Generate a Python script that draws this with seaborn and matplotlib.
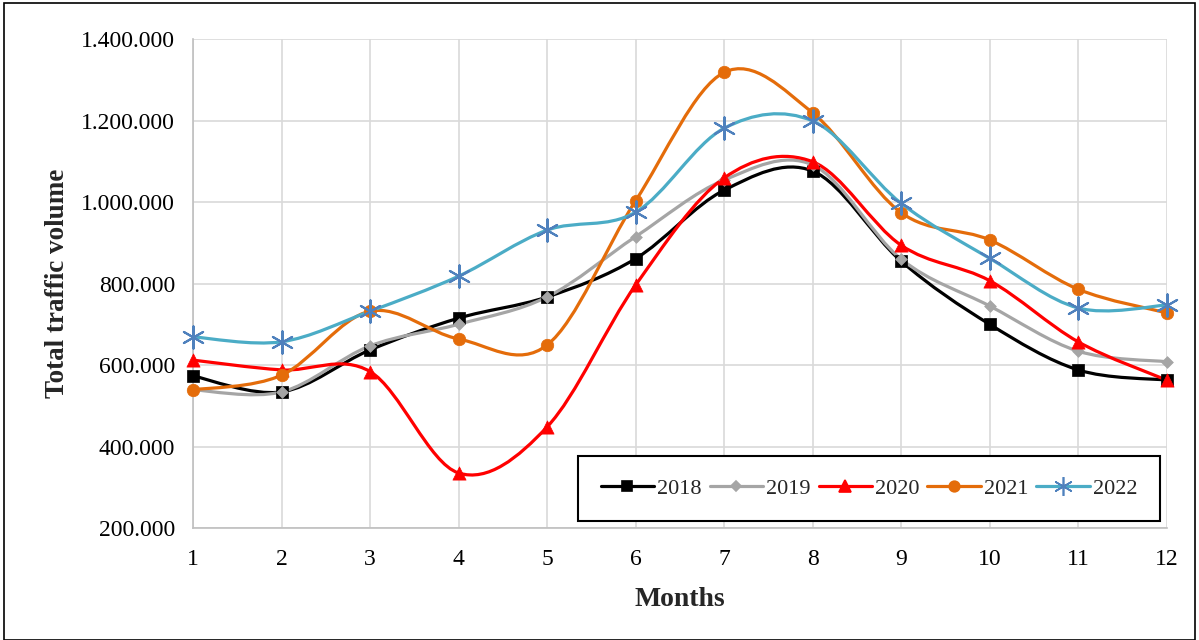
import matplotlib
matplotlib.use("Agg")
import matplotlib.pyplot as plt
import seaborn as sns
import pandas as pd
import numpy as np
from matplotlib.path import Path
from matplotlib.patches import PathPatch, Rectangle
from matplotlib.lines import Line2D
from matplotlib.ticker import FuncFormatter

months = list(range(1, 13))
v2018 = [573000, 534000, 637000, 715000, 767000, 861000, 1029000, 1076000, 855000, 700000, 588000, 563000]
v2019 = [539000, 534000, 647000, 700000, 767000, 915000, 1054000, 1091000, 860000, 745000, 634000, 608000]
v2020 = [612000, 588000, 584000, 335000, 448000, 796000, 1059000, 1099000, 894000, 807000, 657000, 563000]
v2021 = [539000, 575000, 732000, 664000, 649000, 1003000, 1318000, 1219000, 974000, 907000, 786000, 728000]
v2022 = [669000, 657000, 732000, 818000, 931000, 975000, 1181000, 1199000, 997000, 862000, 740000, 747000]

years = ["2018", "2019", "2020", "2021", "2022"]
series = [v2018, v2019, v2020, v2021, v2022]

styles = {
    "2018": dict(line="black", mc="black", marker="s", ms=8.5),
    "2019": dict(line="#A5A5A5", mc="#A5A5A5", marker="D", ms=6),
    "2020": dict(line="#FF0000", mc="#FF0000", marker="^", ms=9.5),
    "2021": dict(line="#E46C0A", mc="#E46C0A", marker="o", ms=9),
    "2022": dict(line="#4BACC6", mc="#4F81BD", marker=(6, 2, 0), ms=16),
}

df = pd.DataFrame({"month": months * 5,
                   "value": sum(series, []),
                   "year": np.repeat(years, 12)})

sns.set_theme(style="whitegrid")
plt.rcParams["font.family"] = ["Liberation Serif", "DejaVu Serif"]


def smooth_path(x, y):
    # Excel-style smoothed line: cubic bezier through the points
    x = np.asarray(x, float)
    y = np.asarray(y, float)
    verts = [(x[0], y[0])]
    codes = [Path.MOVETO]
    n = len(x)
    for i in range(n - 1):
        p0 = np.array([x[max(i - 1, 0)], y[max(i - 1, 0)]])
        p1 = np.array([x[i], y[i]])
        p2 = np.array([x[i + 1], y[i + 1]])
        p3 = np.array([x[min(i + 2, n - 1)], y[min(i + 2, n - 1)]])
        c1 = p1 + (p2 - p0) / 6
        c2 = p2 - (p3 - p1) / 6
        verts += [tuple(c1), tuple(c2), tuple(p2)]
        codes += [Path.CURVE4] * 3
    return Path(verts, codes)


fig = plt.figure(figsize=(11.99, 6.4), dpi=100)
ax = fig.add_axes([0.161, 0.175, 0.812, 0.764])

for yr in years:
    st = styles[yr]
    sub = df[df["year"] == yr]
    ax.add_patch(PathPatch(smooth_path(sub["month"], sub["value"]), fill=False,
                           edgecolor=st["line"], lw=2.3, zorder=3))
    sns.scatterplot(data=sub, x="month", y="value", ax=ax, marker=st["marker"],
                    s=st["ms"] ** 2, color=st["mc"], edgecolor=st["mc"],
                    linewidth=1.5 if yr == "2022" else 0.5, zorder=4,
                    legend=False, clip_on=False)

ax.set_xlim(1, 12)
ax.set_ylim(200000, 1400000)
ax.set_xticks(months)
ax.set_yticks(np.arange(200000, 1400001, 200000))
ax.yaxis.set_major_formatter(FuncFormatter(lambda v, p: f"{v:,.0f}".replace(",", ".")))
ax.grid(True, color="#D9D9D9", lw=1.2)
for s in ["top", "right"]:
    ax.spines[s].set_visible(False)
for s in ["left", "bottom"]:
    ax.spines[s].set_color("#BFBFBF")
    ax.spines[s].set_linewidth(1.2)
ax.tick_params(axis="both", length=0, labelsize=17, colors="black")
ax.tick_params(axis="y", pad=13)
ax.tick_params(axis="x", pad=15)
ax.set_xlabel("Months", fontsize=20, fontweight="bold", labelpad=12)
ax.set_ylabel("Total traffic volume", fontsize=19.5, fontweight="bold", labelpad=8)

handles = []
for yr in years:
    st = styles[yr]
    handles.append(Line2D([0], [0], color=st["line"], lw=2.3, marker=st["marker"],
                          markersize=st["ms"] * 0.85, markerfacecolor=st["mc"],
                          markeredgecolor=st["mc"], markeredgewidth=1.2))
leg = ax.legend(handles, years, ncol=5, loc="lower right", bbox_to_anchor=(0.993, 0.014),
                fontsize=16, frameon=True, fancybox=False, handlelength=2.4,
                handletextpad=0.15, columnspacing=0.35, borderpad=1.0,
                borderaxespad=0)
leg.get_frame().set_edgecolor("black")
leg.get_frame().set_linewidth(1.5)
leg.get_frame().set_alpha(1)

fig.patches.append(Rectangle((0.003, 0.0), 0.994, 0.995, transform=fig.transFigure,
                             fill=False, edgecolor="black", lw=1.2))

fig.savefig("out.png", dpi=100)
